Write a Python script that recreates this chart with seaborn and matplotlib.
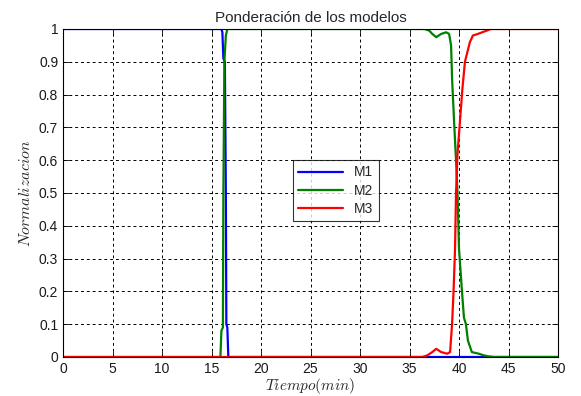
import matplotlib
matplotlib.use("Agg")
import matplotlib.pyplot as plt
import seaborn as sns
import pandas as pd

# --- data ---
t_m1 = [0, 16.0, 16.1, 16.2, 16.35, 16.45, 16.5, 16.6, 16.7, 50]
v_m1 = [1, 1, 0.99, 0.91, 0.9, 0.5, 0.1, 0.09, 0.0, 0]

t_m2 = [0, 15.9, 16.0, 16.15, 16.2, 16.3, 16.45, 16.6, 36.5, 37.0, 37.3, 37.7,
        38.2, 38.7, 39.0, 39.2, 39.3, 39.5, 39.7, 39.85, 40.0, 40.3, 40.5,
        40.7, 40.9, 41.3, 42.0, 42.5, 43.0, 43.5, 50]
v_m2 = [0, 0, 0.08, 0.09, 0.5, 0.9, 0.98, 1.0, 1.0, 0.995, 0.985, 0.975,
        0.985, 0.99, 0.985, 0.95, 0.85, 0.72, 0.6, 0.5, 0.33, 0.2, 0.12,
        0.1, 0.05, 0.015, 0.01, 0.005, 0.002, 0, 0]

t_m3 = [0, 36.3, 36.8, 37.3, 37.7, 38.2, 38.8, 39.1, 39.3, 39.45, 39.6, 39.7,
        39.85, 40.1, 40.35, 40.6, 41.1, 41.4, 41.9, 42.8, 43.2, 50]
v_m3 = [0, 0, 0.005, 0.015, 0.025, 0.015, 0.01, 0.015, 0.1, 0.2, 0.33, 0.5,
        0.62, 0.72, 0.82, 0.9, 0.96, 0.98, 0.985, 0.995, 1.0, 1.0]

series_names = ["M1", "M2", "M3"]
series_colors = ["#0000ff", "#008000", "#ff0000"]

x_ticks = list(range(0, 51, 5))
y_ticks = [i / 10 for i in range(11)]
y_tick_labels = ["0", "0.1", "0.2", "0.3", "0.4", "0.5", "0.6", "0.7", "0.8", "0.9", "1"]

frames = []
for name, t, v in zip(series_names, [t_m1, t_m2, t_m3], [v_m1, v_m2, v_m3]):
    frames.append(pd.DataFrame({"Tiempo": t, "Valor": v, "Modelo": name}))
df = pd.concat(frames, ignore_index=True)

sns.set_theme(style="white")
plt.rcParams["font.family"] = ["Liberation Sans", "DejaVu Sans"]
plt.rcParams["mathtext.fontset"] = "cm"

fig = plt.figure(figsize=(5.81, 3.96), dpi=100)
ax = fig.add_axes([63 / 581, 1 - 357 / 396, (558 - 63) / 581, (357 - 29) / 396])

sns.lineplot(data=df, x="Tiempo", y="Valor", hue="Modelo",
             hue_order=series_names, palette=series_colors,
             estimator=None, sort=False, linewidth=1.6, ax=ax)

ax.set_xlim(0, 50)
ax.set_ylim(0, 1)
ax.set_xticks(x_ticks)
ax.set_yticks(y_ticks)
ax.set_yticklabels(y_tick_labels)
ax.grid(True, color="black", linestyle=(0, (3, 3)), linewidth=0.7)
ax.set_axisbelow(True)
for s in ax.spines.values():
    s.set_color("black")
    s.set_linewidth(0.8)
ax.tick_params(direction="in", length=4, width=0.6, labelsize=10,
               top=True, right=True, bottom=True, left=True, colors="black")
for lbl in ax.get_xticklabels() + ax.get_yticklabels():
    lbl.set_color("#1a1a1a")

ax.set_title("Ponderación de los modelos", fontsize=11, pad=5)
ax.set_xlabel(r"$Tiempo(min)$", fontsize=11, labelpad=0)
ax.set_ylabel(r"$Normalizacion$", fontsize=11.5, labelpad=4)

leg = ax.legend(loc="upper left", bbox_to_anchor=(0.45, 0.622), fontsize=10,
                frameon=True, fancybox=False, edgecolor="black",
                handlelength=3.2, borderpad=0.4, labelspacing=0.3)
leg.get_frame().set_linewidth(0.8)

fig.savefig("out.png", dpi=100, facecolor="white")
